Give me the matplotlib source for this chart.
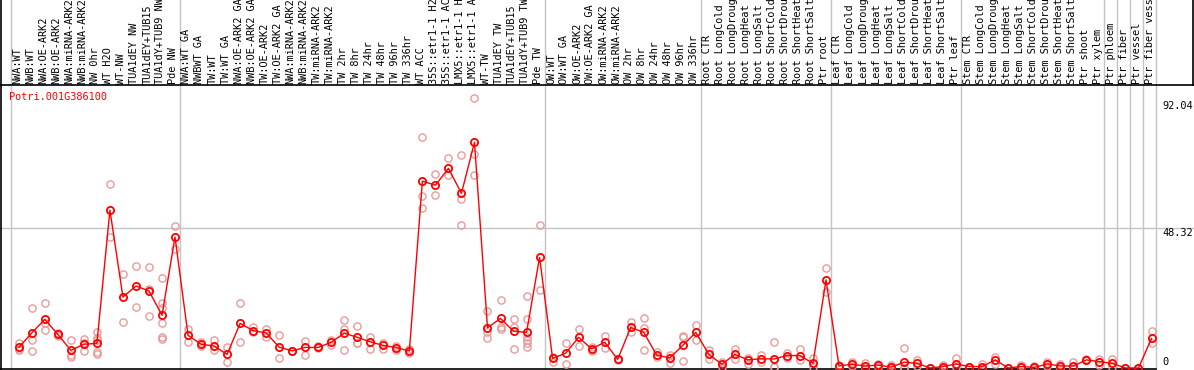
import matplotlib
matplotlib.use("Agg")
import matplotlib.pyplot as plt

gene = "Potri.001G386100"

# sample names as printed in the header (cut to 14 characters like the original)
samples = [
    "NWA:WT", "NWB:WT", "NWA:OE-ARK2", "NWB:OE-ARK2", "NWA:miRNA-ARK2", "NWB:miRNA-ARK2",
    "NW 0hr", "WT H2O", "WT-NW", "TUA1dEY NW", "TUA1dEY+TUB15", "TUA1dY+TUB9 NW", "Pde NW",
    "NWA:WT GA", "NWBWT GA", "TW:WT", "TW:WT GA", "NWA:OE-ARK2 GA", "NWB:OE-ARK2 GA",
    "TW:OE-ARK2", "TW:OE-ARK2 GA", "NWA:miRNA-ARK2", "NWB:miRNA-ARK2", "TW:miRNA-ARK2",
    "TW:miRNA-ARK2", "TW 2hr", "TW 8hr", "TW 24hr", "TW 48hr", "TW 96hr", "TW 336hr",
    "WT ACC", "35S::etr1-1 H2", "35S::etr1-1 AC", "LMX5::etr1-1 H", "LMX5::etr1-1 A",
    "WT-TW", "TUA1dEY TW", "TUA1dEY+TUB15", "TUA1dY+TUB9 TW", "Pde TW",
    "OW:WT", "OW:WT GA", "OW:OE-ARK2", "OW:OE-ARK2 GA", "OW:miRNA-ARK2", "OW:miRNA-ARK2",
    "OW 2hr", "OW 8hr", "OW 24hr", "OW 48hr", "OW 96hr", "OW 336hr",
    "Root CTR", "Root LongCold", "Root LongDroug", "Root LongHeat", "Root LongSalt",
    "Root ShortCold", "Root ShortDrou", "Root ShortHeat", "Root ShortSalt", "Ptr root",
    "Leaf CTR", "Leaf LongCold", "Leaf LongDroug", "Leaf LongHeat", "Leaf LongSalt",
    "Leaf ShortCold", "Leaf ShortDrou", "Leaf ShortHeat", "Leaf ShortSalt", "Ptr leaf",
    "Stem CTR", "Stem LongCold", "Stem LongDroug", "Stem LongHeat", "Stem LongSalt",
    "Stem ShortCold", "Stem ShortDrou", "Stem ShortHeat", "Stem ShortSalt", "Ptr shoot",
    "Ptr xylem", "Ptr phloem", "Ptr fiber", "Ptr vessel", "Ptr fiber vess",
]

# mean expression per sample (connected line)
means = [
    7.1, 12.1, 16.8, 11.6, 6.1, 8.2, 8.5, 54.5, 24.5, 28.3, 26.6, 18.2, 45.2,
    11.3, 8.2, 7.6, 4.7, 15.4, 12.9, 12.1, 7.2, 5.9, 7.1, 7.1, 8.9, 12.0, 10.6,
    9.0, 7.8, 7.0, 5.9, 64.5, 63.1, 68.9, 60.3, 77.9, 13.9, 17.1, 12.7, 12.3, 38.2,
    3.3, 5.1, 10.6, 6.6, 8.9, 3.0, 14.0, 12.3, 4.4, 3.5, 7.8, 12.3,
    4.7, 1.3, 4.7, 2.8, 3.2, 3.1, 4.3, 4.3, 1.6, 30.4,
    0.7, 1.3, 0.7, 1.0, 0.3, 2.0, 1.6, 0.0, 0.5, 1.4,
    0.5, 0.5, 2.8, 0.0, 0.5, 0.2, 1.4, 0.7, 0.7, 2.8, 2.2,
    1.6, 0.0, 0.0, 10.2,
]

# individual replicates per sample
replicates = [
    [8.5, 6.7, 6.2], [20.6, 9.6, 5.8], [22.4, 13.1, 15.4], [12.0, 11.2], [9.6, 4.5, 3.9],
    [10.0, 6.0, 8.5], [12.3, 10.2, 5.6, 4.8, 9.6], [63.4, 45.2], [32.3, 15.8], [35.1, 21.0],
    [34.8, 17.9, 27.4], [31.0, 22.3, 20.6, 15.4, 10.8, 10.1], [49.0, 41.1],
    [13.4, 8.9], [8.9, 7.5], [9.7, 6.2], [7.4, 2.0], [22.3, 8.9], [14.0, 12.5],
    [13.4, 10.8], [11.3, 3.5], [6.0, 5.8], [9.4, 4.5], [7.5, 6.9], [9.7, 8.0],
    [16.6, 13.5, 6.1], [14.4, 8.7, 8.7], [10.8, 6.4], [8.7, 6.7], [7.7, 6.2], [6.5, 5.2],
    [79.7, 59.3, 55.1], [67.0, 59.6], [72.4, 66.5], [73.5, 58.3, 49.4], [93.1, 73.8, 66.5],
    [19.7, 12.3, 10.3], [23.4, 14.3, 13.5], [16.9, 14.0, 6.6],
    [24.7, 16.9, 10.8, 9.7, 8.5, 7.4], [49.3, 26.8],
    [3.9, 2.2], [8.5, 1.3], [13.5, 7.7], [7.4, 6.0], [11.1, 6.8], [3.2, 2.8],
    [15.8, 12.3], [17.2, 13.7, 6.2], [5.4, 3.8], [4.6, 1.7], [11.0, 10.6, 2.3], [14.8, 9.7],
    [6.2, 3.0], [2.2, 0.2], [6.6, 3.0], [3.3, 1.5], [4.6, 2.0], [8.9, 0.2, 0.2],
    [5.1, 3.5], [6.6, 2.8], [3.3, 0.5], [34.4, 26.1],
    [1.0, 0.4], [2.1, 0.8], [1.8, 0.0], [1.4, 0.4], [1.2, 0.0], [6.8, 0.0, 0.0],
    [2.6, 0.6], [0.0, 0.0], [1.2, 0.0], [3.6, 0.2],
    [0.5, 0.4], [1.5, 0.0], [3.9, 1.5], [0.0], [0.9, 0.2], [0.8, 0.0], [2.0, 0.8],
    [1.4, 0.1], [2.0, 0.0], [3.0, 2.6], [3.0, 1.2],
    [3.0, 0.3], [0.0], [0.0], [12.9, 8.5],
]

# sample index where each tissue group starts (plus the end)
group_edges = [0, 13, 41, 53, 63, 73, 84, 85, 86, 87, 88]
ytick_vals = [92.04, 48.32, 0]
ytick_text = ["92.04", "48.32", "0"]

MONO = "DejaVu Sans Mono"
FS = 7.4
GRID = "#c4c4c4"
PINK = "#e89a9a"

# pixel geometry of the original image (1194 x 370)
W, H = 1194, 370
x0_px, col_px = 10.7, 13.02   # left of first column, column width
y0_px, unit_px = 368.0, 2.897  # pixel row of value 0, pixels per unit
head_px = 85                   # header separator row


def ypx(p):
    return (y0_px - p) / unit_px


def xpx(p):
    return (p - x0_px) / col_px


fig = plt.figure(figsize=(W / 100, H / 100), dpi=100)
ax = fig.add_axes([0, 0, 1, 1])
ax.set_xlim(xpx(0), xpx(W))
ax.set_ylim(ypx(H), ypx(0))
ax.axis("off")

top = ypx(0)
bottom = ypx(369)
header = ypx(head_px)

# grid lines
for e in group_edges:
    ax.plot([e, e], [bottom, top], color=GRID, lw=1, zorder=1)
ax.plot([xpx(0), xpx(W)], [48.32, 48.32], color=GRID, lw=1, zorder=1)

# frame lines
ax.plot([xpx(0), xpx(W)], [header, header], color="black", lw=1.2, zorder=2)
ax.plot([xpx(0), group_edges[-1]], [bottom, bottom], color="black", lw=1.2, zorder=2)
ax.plot([xpx(1), xpx(1)], [bottom, top], color="black", lw=1.2, zorder=2)
ax.plot([xpx(1193), xpx(1193)], [header, top], color="black", lw=1.2, zorder=2)

# sample labels in the header
for i, s in enumerate(samples):
    ax.text(i + 0.5, ypx(head_px - 1.5), s, rotation=90, ha="center", va="bottom",
            family=MONO, fontsize=FS, color="black")

xs = [i + 0.62 for i in range(len(samples))]

# replicates
for x, reps in zip(xs, replicates):
    ax.plot([x] * len(reps), reps, linestyle="none", marker="o", ms=5.2,
            mfc="none", mec=PINK, mew=1.0, zorder=3)

# mean line
ax.plot(xs, means, color="red", lw=1.0, marker="o", ms=5.2, mfc="none",
        mec="red", mew=1.3, zorder=4)

ax.text(-0.1, ypx(97), gene, color="red", family=MONO, fontsize=FS,
        ha="left", va="center")

for v, t in zip(ytick_vals, ytick_text):
    ax.text(xpx(1162), v + (0.0 if v else 0.4), t, family=MONO, fontsize=FS,
            ha="left", va="top" if v else "bottom", color="black")

fig.savefig("out.png", dpi=100)
